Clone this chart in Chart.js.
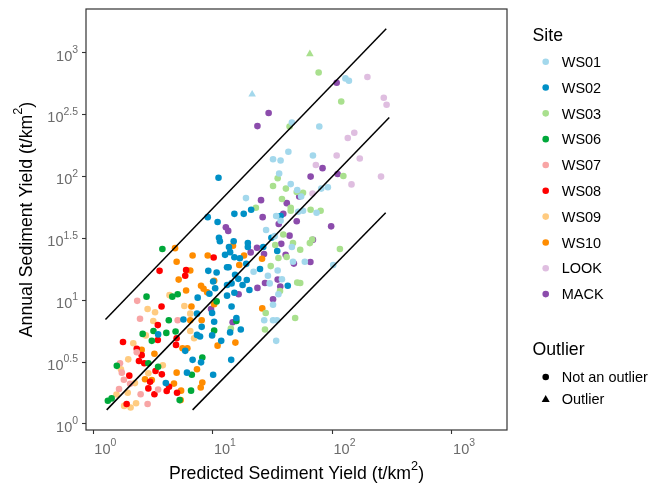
<!DOCTYPE html>
<html>
<head>
<meta charset="utf-8">
<script src="https://cdn.jsdelivr.net/npm/chart.js@4.4.1/dist/chart.umd.min.js"></script>
<style>
  body { margin: 0; background: #fff; }
  #wrap { width: 652px; height: 485px; }
</style>
</head>
<body>
<div id="wrap"><canvas id="chart" width="652" height="485"></canvas></div>
<script>
// [predicted, annual] pairs per site, t/km2
const WS01 = [[129,622],[138,596],[46,274],[78,254],[43,159],[69,148],[32,138],[37,135],[36,106],[45,87],[51,78],[55,69],[81,80],[92,82],[19,67],[34,48],[37,44],[52,52],[57,53],[74,51],[28,37],[33,33],[46,27],[22,17],[47,20.5],[59,20.5],[102,19.3],[35,17.4],[29,15.8],[38,14.8],[30,13.7],[35.5,11.2],[32,9.2],[27,6.9],[32,6.9],[34.5,6.9],[34,4.7]]
const WS02 = [[11.2,98],[9.1,47],[11.0,43],[15.2,50],[21,54],[18.2,50],[11.3,32],[11.5,30],[37,48],[31,32],[15,30],[19.7,29],[19.7,27],[26.5,27],[13.7,27],[14,24.5],[12.7,23.3],[15.2,22.3],[13.2,18.5],[13.6,18.5],[19.1,19.7],[9.2,17.3],[10.8,16.8],[15.4,16.1],[10.1,14.2],[16.4,14.9],[19.3,14.6],[17.8,13.3],[20.3,12.1],[15.2,11.5],[13.2,13.3],[14.4,13.7],[10.5,12.5],[13.2,10.9],[7.5,10.5],[9.4,11.3],[14.4,8.9],[7.4,7.8],[5.7,7.0],[10.3,6.7],[17.2,5.8],[8.1,6.1],[7.4,5.25],[7.85,5.1],[9.9,5.2],[14,5.5],[11.8,4.7],[5.9,3.9],[6.8,3.3],[8.0,3.15],[14.3,3.3],[6.1,2.6],[10.1,2.5],[4.06,2.14],[3.5,5.3],[34.7,25],[24.9,17.9],[42.5,13.1],[9.9,7.9],[15.8,7.2],[16.9,21.9]]
const WS03 = [[77,694],[119,405],[44,254],[124,101],[35,97],[32,84],[41,80],[50.5,75],[57,74],[23,56],[38,66],[45,56],[45,53],[66,54],[80,53],[39,34],[47,29],[68,31],[65,29],[33.4,28],[116,26],[35.5,22],[41.6,22.4],[54,25.6],[30.6,18.9],[54,13.8],[51,13.9],[36.6,11.9],[27.8,7.9],[49,7.2],[27.4,5.8],[14.2,5.9]]
const WS06 = [[3.8,26],[2.8,10.7],[4.6,10.7],[5.1,11.2],[4.3,6.9],[3.2,5.65],[2.6,5.35],[4.1,5.45],[4.9,5.6],[10.8,9.8],[10.3,5.7],[15.8,6.8],[8.2,3.45],[6.7,2.5],[6.6,1.86],[3.1,4.7],[2.9,3.1],[1.58,2.95],[3.5,2.9],[1.43,1.61],[1.33,1.54],[5.3,1.56]]
const WS07 = [[2.34,9.9],[2.47,7.1],[5.1,6.9],[2.32,3.8],[1.74,2.6],[1.81,2.28],[2.04,2.11],[3.5,1.9],[1.65,1.92],[2.5,1.74],[2.86,1.45],[1.68,3.1]]
const WS08 = [[10.2,22.2],[3.6,17.3],[6.0,17.6],[5.9,15.8],[3.74,8.9],[3.48,6.3],[5.0,4.93],[4.94,4.36],[1.78,4.6],[2.32,4.05],[2.55,3.6],[3.48,4.78],[2.42,3.23],[2.68,3.1],[3.33,2.68],[3.76,2.52],[2.01,2.46],[3.0,2.19],[4.32,2.0],[4.13,1.85],[2.9,1.94],[3.26,1.74],[5.04,1.79],[1.91,1.45]]
const WS09 = [[4.36,11.0],[2.86,8.5],[3.3,8.0],[3.19,6.8],[5.8,9.0],[6.5,7.8],[6.5,5.65],[7.0,4.93],[2.76,5.2],[2.17,4.5],[1.97,3.33],[1.71,2.77],[3.83,2.98],[2.9,2.57],[2.24,2.14],[1.95,1.79],[1.57,1.73],[1.82,1.4],[2.06,1.36],[2.29,1.47]]
const WS10 = [[4.85,26.4],[5.0,20.5],[6.8,23],[9.1,23],[6.5,17.4],[5.2,14.7],[6.0,12.0],[6.65,8.9],[14.8,27.6],[18.3,23],[16.7,19.3],[10.3,14.4],[8.0,13.1],[8.4,12.4],[9.0,11.6],[10.3,9.3],[6.5,6.9],[8.1,6.9],[25.9,21.7],[26,8.6],[11.0,4.3],[15.5,4.55],[5.6,4.1],[6.15,4.1],[5.0,2.6],[7.4,2.77],[8.2,2.16],[7.95,1.97],[4.75,2.12],[5.45,1.86],[5.4,1.56],[2.55,3.97],[3.26,3.7],[2.72,2.3],[3.1,2.27]]
const LOOK = [[197,638],[270,434],[285,381],[153,226],[135,205],[109,148],[170,140],[73,124],[256,100],[145,86.5],[68.5,73]]
const MACK = [[109,574],[29.4,327],[23.7,256],[83,117],[66,100],[111,105],[53,69],[25.4,64.5],[41.7,61],[39,50],[26.2,47],[50.5,43.6],[98,39.6],[12.9,39],[13.5,36.4],[44,33.3],[37.5,28.6],[23.5,26.6],[20.8,24.4],[26.9,23.7],[40.8,23.3],[47.8,19.8],[65.7,20.4],[35,14.7],[27.4,13.8],[23.7,12.6],[36.8,12.9],[32,10.2],[16.5,11.2],[9.7,8.5],[14.7,6.65],[69,30.8],[35.7,41.4]]

// outliers (triangles)
const outliers = [['WS01', 21.4, 463], ['WS03', 65, 980]]

// reference lines
const lineUpper = [[1.27, 7.0], [283, 1570]]
const lineMid = [[1.3, 1.3], [300, 300]]
const lineLower = [[6.8, 1.3], [280, 51]]

const sites = ['WS01','WS02','WS03','WS06','WS07','WS08','WS09','WS10','LOOK','MACK']
const siteData = [WS01, WS02, WS03, WS06, WS07, WS08, WS09, WS10, LOOK, MACK]
const siteColors = ['#a3d8ec','#0090c6','#a9e08e','#00a83a','#f8a5a5','#ff0000','#ffcb80','#ff8c00','#dfbee0','#8c4cac']

const xTickExps = ['0','1','2','3']
const yTickExps = ['0','0.5','1','1.5','2','2.5','3']

const FONT = '"Liberation Sans", Arial, sans-serif'
const toPts = arr => arr.map(p => ({x: p[0], y: p[1]}))

const datasets = []
;[lineUpper, lineMid, lineLower].forEach(l => {
  datasets.push({data: toPts(l), showLine: true, borderColor: '#000', borderWidth: 1.5,
    pointRadius: 0, order: 0})
})
siteData.forEach((d, i) => {
  datasets.push({label: sites[i], data: toPts(d), backgroundColor: siteColors[i],
    borderWidth: 0, pointRadius: 3.3, pointStyle: 'circle', order: 1})
})
outliers.forEach(o => {
  datasets.push({label: o[0] + ' outlier', data: [{x: o[1], y: o[2]}],
    backgroundColor: siteColors[sites.indexOf(o[0])], borderWidth: 0,
    pointRadius: 4.4, pointStyle: 'triangle', order: 1})
})

function richText(ctx, parts, x, y, size, align) {
  // parts: [text, isSuperscript]
  let w = 0
  const widths = parts.map(p => {
    ctx.font = (p[1] ? size * 0.72 : size) + 'px ' + FONT
    const m = ctx.measureText(p[0]).width
    w += m
    return m
  })
  let cx = align === 'right' ? x - w : align === 'center' ? x - w / 2 : x
  ctx.textAlign = 'left'
  ctx.textBaseline = 'alphabetic'
  parts.forEach((p, i) => {
    ctx.font = (p[1] ? size * 0.72 : size) + 'px ' + FONT
    ctx.fillText(p[0], cx, p[1] ? y - size * 0.52 : y)
    cx += widths[i]
  })
}

const decorations = {
  id: 'decorations',
  afterDraw(chart) {
    const ctx = chart.ctx
    const a = chart.chartArea
    const xs = chart.scales.x, ys = chart.scales.y
    ctx.save()
    ctx.strokeStyle = '#333'
    ctx.lineWidth = 1.2
    ctx.strokeRect(a.left, a.top, a.right - a.left, a.bottom - a.top)

    ctx.fillStyle = '#6b6b6b'
    xTickExps.forEach(e => {
      const px = xs.getPixelForValue(Math.pow(10, parseFloat(e)))
      richText(ctx, [['10', 0], [e, 1]], px + 1.3, a.bottom + 24, 14.5, 'left')
    })
    yTickExps.forEach(e => {
      const py = ys.getPixelForValue(Math.pow(10, parseFloat(e)))
      richText(ctx, [['10', 0], [e, 1]], a.left - 8, py + 7.7, 14.5, 'right')
    })

    ctx.fillStyle = '#000'
    richText(ctx, [['Predicted Sediment Yield (t/km', 0], ['2', 1], [')', 0]],
      (a.left + a.right) / 2, 479, 17.7, 'center')
    ctx.save()
    ctx.translate(31.5, (a.top + a.bottom) / 2)
    ctx.rotate(-Math.PI / 2)
    richText(ctx, [['Annual Sediment Yield (t/km', 0], ['2', 1], [')', 0]], 0, 0, 17.7, 'center')
    ctx.restore()

    // legend
    const lx = 532.5, kx = 545.7, tx = 561.7
    richText(ctx, [['Site', 0]], lx, 41, 17.7, 'left')
    sites.forEach((s, i) => {
      const y = 61.7 + i * 25.82
      ctx.fillStyle = siteColors[i]
      ctx.beginPath()
      ctx.arc(kx, y, 3.3, 0, Math.PI * 2)
      ctx.fill()
      ctx.fillStyle = '#000'
      richText(ctx, [[s, 0]], tx, y + 5.2, 14.5, 'left')
    })
    richText(ctx, [['Outlier', 0]], lx, 354.5, 17.7, 'left')
    ctx.fillStyle = '#000'
    ctx.beginPath()
    ctx.arc(kx, 377, 3.3, 0, Math.PI * 2)
    ctx.fill()
    richText(ctx, [['Not an outlier', 0]], tx, 382.2, 14.5, 'left')
    ctx.beginPath()
    ctx.moveTo(kx, 395)
    ctx.lineTo(kx + 4, 402)
    ctx.lineTo(kx - 4, 402)
    ctx.closePath()
    ctx.fill()
    richText(ctx, [['Outlier', 0]], tx, 404.4, 14.5, 'left')
    ctx.restore()
  }
}

const axisBase = {
  type: 'logarithmic',
  grid: {display: true, drawOnChartArea: false, drawTicks: true, tickLength: 4,
    tickColor: '#333', tickWidth: 1.1},
  border: {display: false},
  ticks: {display: false}
}

new Chart(document.getElementById('chart'), {
  type: 'scatter',
  data: {datasets: datasets},
  options: {
    responsive: false,
    animation: false,
    events: [],
    devicePixelRatio: 1,
    layout: {padding: {top: 9, right: 145, left: 0, bottom: 0}},
    plugins: {legend: {display: false}, tooltip: {enabled: false}},
    scales: {
      x: Object.assign({}, axisBase, {
        min: 0.873, max: 2896,
        afterBuildTicks: s => { s.ticks = xTickExps.map(e => ({value: Math.pow(10, parseFloat(e))})) },
        afterFit: s => { s.height = 55 }
      }),
      y: Object.assign({}, axisBase, {
        min: 0.894, max: 2265,
        afterBuildTicks: s => { s.ticks = yTickExps.map(e => ({value: Math.pow(10, parseFloat(e))})) },
        afterFit: s => { s.width = 86 }
      })
    }
  },
  plugins: [decorations]
})
</script>
</body>
</html>
